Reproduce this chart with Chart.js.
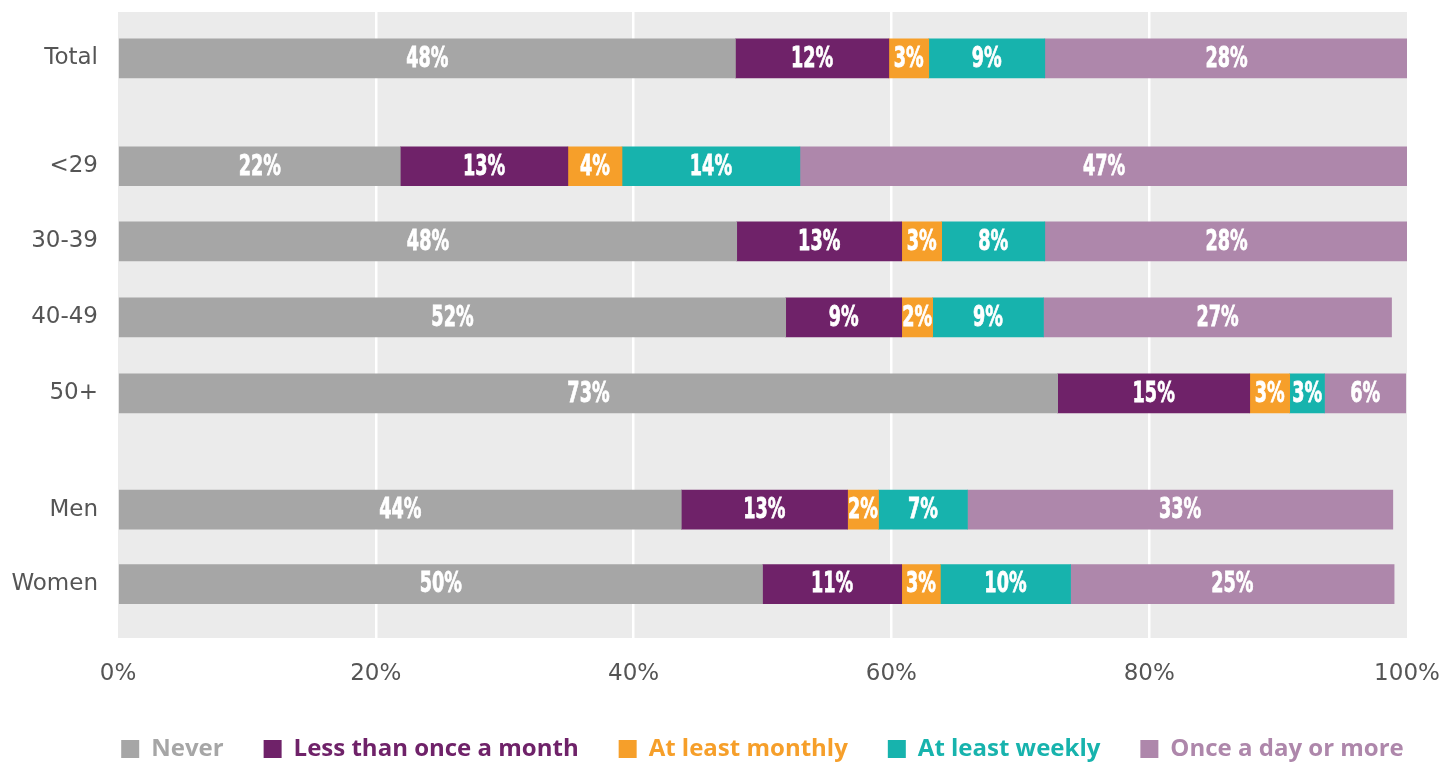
<!DOCTYPE html>
<html>
<head>
<meta charset="utf-8">
<script src="https://cdn.jsdelivr.net/npm/chart.js@4"></script>
<style>
  body { margin: 0; background: #fff; }
  canvas { display: block; }
</style>
</head>
<body>
<canvas id="freqChart" width="1449" height="765"></canvas>
<script>
// Row labels (top to bottom) and the series shares in percent
const rowLabels = ['Total', '<29', '30-39', '40-49', '50+', 'Men', 'Women'];
const seriesNames = ['Never', 'Less than once a month', 'At least monthly', 'At least weekly', 'Once a day or more'];

const never       = [47.9, 21.9, 48.0, 51.8, 72.9, 43.7, 50.0];
const lessMonthly = [11.9, 13.0, 12.8,  9.0, 14.9, 12.9, 10.8];
const monthly     = [ 3.1,  4.2,  3.1,  2.4,  3.1,  2.4,  3.0];
const weekly      = [ 9.0, 13.8,  8.0,  8.6,  2.7,  6.9, 10.1];
const daily       = [28.2, 47.2, 28.2, 27.0,  6.3, 33.0, 25.1];

const xTicks = [0, 20, 40, 60, 80, 100];

// Layout: row slots on the y axis (groups are separated by a gap)
const rowPos = [0.61, 2.03, 3.02, 4.02, 5.02, 6.55, 7.53];
const rowMax = 8.24;

const seriesColors = ['#a6a6a6', '#6f2269', '#f69f2a', '#17b3ad', '#ae87ab'];
const allSeries = [never, lessMonthly, monthly, weekly, daily];

// Grey plot background
const plotBackground = {
    id: 'plotBackground',
    beforeDraw(chart) {
        const { ctx, chartArea: a } = chart;
        ctx.save();
        ctx.fillStyle = '#ebebeb';
        ctx.fillRect(a.left, a.top, a.right - a.left, a.bottom - a.top);
        ctx.restore();
    }
};

// Centre the legend on the plot area (widened equally on both sides so it stays one row)
const legendUnderPlot = {
    id: 'legendUnderPlot',
    afterLayout(chart) {
        const lg = chart.legend;
        if (!lg) return;
        const a = chart.chartArea;
        const extra = chart.width - a.right;
        lg.left = a.left - extra;
        lg.right = a.right + extra;
        lg.width = lg.right - lg.left;
    }
};

// White condensed percentage labels centred in each segment
const segmentLabels = {
    id: 'segmentLabels',
    afterDatasetsDraw(chart) {
        const ctx = chart.ctx;
        ctx.save();
        ctx.fillStyle = '#ffffff';
        ctx.strokeStyle = '#ffffff';
        ctx.lineWidth = 0.8;
        ctx.textAlign = 'center';
        ctx.textBaseline = 'middle';
        ctx.font = 'bold 28px "DejaVu Sans"';
        chart.data.datasets.forEach((ds, i) => {
            const meta = chart.getDatasetMeta(i);
            meta.data.forEach((bar, j) => {
                const cx = (bar.x + bar.base) / 2;
                const txt = Math.round(ds.data[j].x) + '%';
                ctx.save();
                ctx.translate(cx, bar.y + 1);
                ctx.scale(0.63, 1);
                ctx.fillText(txt, 0, 0);
                ctx.strokeText(txt, 0, 0);
                ctx.restore();
            });
        });
        ctx.restore();
    }
};

const ctx = document.getElementById('freqChart').getContext('2d');

new Chart(ctx, {
    type: 'bar',
    data: {
        datasets: seriesNames.map((name, i) => ({
            label: name,
            data: allSeries[i].map((v, j) => ({ x: v, y: rowPos[j] })),
            backgroundColor: seriesColors[i],
            borderWidth: 0,
            barThickness: 39
        }))
    },
    options: {
        indexAxis: 'y',
        responsive: false,
        animation: false,
        layout: { padding: { top: 12, right: 0, left: 0, bottom: -6 } },
        plugins: {
            tooltip: { enabled: false },
            legend: {
                position: 'bottom',
                labels: {
                    boxWidth: 18,
                    boxHeight: 18,
                    padding: 40,
                    font: { family: '"Open Sans"', size: 24, weight: 'bold' },
                    generateLabels(chart) {
                        const items = Chart.defaults.plugins.legend.labels.generateLabels(chart);
                        items.forEach(it => { it.fontColor = it.fillStyle; it.lineWidth = 0; });
                        return items;
                    }
                }
            }
        },
        scales: {
            x: {
                type: 'linear',
                min: 0,
                max: 100,
                stacked: true,
                afterBuildTicks: scale => { scale.ticks = xTicks.map(v => ({ value: v })); },
                afterFit: scale => {
                    scale.height = 59;
                    scale.paddingLeft = 0;
                    scale.paddingRight = 42;
                },
                ticks: {
                    callback: v => v + '%',
                    color: '#555555',
                    font: { family: '"DejaVu Sans"', size: 23 },
                    padding: 22,
                    maxRotation: 0
                },
                grid: {
                    color: c => (c.tick && (c.tick.value === 0 || c.tick.value === 100)) ? 'rgba(0,0,0,0)' : '#ffffff',
                    lineWidth: 2.5,
                    drawTicks: false
                },
                border: { display: false }
            },
            y: {
                type: 'linear',
                reverse: true,
                offset: false,
                min: 0,
                max: rowMax,
                stacked: true,
                afterBuildTicks: scale => { scale.ticks = rowPos.map(v => ({ value: v })); },
                afterFit: scale => {
                    scale.width = 118;
                    scale.paddingTop = 0;
                    scale.paddingBottom = 0;
                },
                ticks: {
                    callback: (v, i) => rowLabels[i],
                    autoSkip: false,
                    color: '#555555',
                    font: { family: '"DejaVu Sans"', size: 23 },
                    padding: 20
                },
                grid: { display: false, drawTicks: false, offset: false },
                border: { display: false }
            }
        }
    },
    plugins: [plotBackground, legendUnderPlot, segmentLabels]
});
</script>
</body>
</html>
